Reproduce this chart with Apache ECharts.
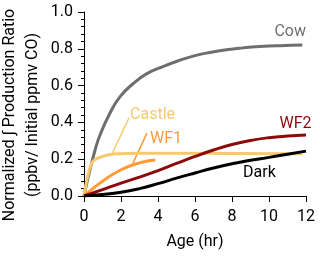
<!DOCTYPE html>
<html><head><meta charset="utf-8">
<script src="https://cdn.jsdelivr.net/npm/echarts@6/dist/echarts.min.js"></script>
<style>html,body{margin:0;padding:0;background:#fff}#c{width:320px;height:256px}</style>
</head><body><div id="c"></div>
<script>
const xTicks = [0, 2, 4, 6, 8, 10, 12];
const yTicks = [0.0, 0.2, 0.4, 0.6, 0.8, 1.0];
const cowT = [0,0.15,0.32,0.6,0.86,1.4,1.95,2.65,3.4,4.3,5.1,5.9,6.8,7.7,8.6,9.5,10.6,11.8];
const cowV = [0,0.07,0.14,0.25,0.33,0.45,0.54,0.61,0.665,0.705,0.735,0.76,0.78,0.795,0.805,0.812,0.817,0.82];
const castleT = [0,0.1,0.23,0.35,0.5,0.86,1.6,3,5,8,11.8];
const castleV = [0,0.06,0.12,0.16,0.19,0.21,0.228,0.232,0.232,0.231,0.23];
const wf1T = [0,0.86,1.95,3.0,3.85];
const wf1V = [0,0.07,0.14,0.18,0.195];
const wf2T = [0,1,2,3,4,5,6,7,8,9,10,11,12];
const wf2V = [0,0.035,0.07,0.103,0.138,0.177,0.215,0.25,0.28,0.302,0.317,0.326,0.332];
const darkT = [0,1,2,3,4,5,6,7,8,9,10,11,12];
const darkV = [0,0.008,0.02,0.04,0.067,0.097,0.125,0.152,0.175,0.194,0.21,0.227,0.244];
const names = ['Cow','Castle','WF1','WF2','Dark'];
const colors = ['#6d6e6e','#f6c96d','#ff9a35','#8b0a0a','#000000'];
// label anchor (data coords) and alignment
const labelPos = [[12,0.889,'right'],[2.49,0.44,'left'],[3.57,0.3125,'left'],[12.3,0.389,'right'],[8.6,0.125,'left']];
// pointer lines (data coords)
const pointers = [[1,[2.43,0.424],[1.51,0.228]],[2,[3.4,0.342],[2.65,0.179]]];
const yTitle = ['Normalized \u222B Production Ratio','(ppbv/ Initial ppmv CO)'];
const xTitle = 'Age (hr)';

const zip = (t,v)=>t.map((x,i)=>[x,v[i]]);
const seriesData = [zip(cowT,cowV),zip(castleT,castleV),zip(wf1T,wf1V),zip(wf2T,wf2V),zip(darkT,darkV)];
const FONT = 'Roboto';
const FW = 400;
const chart = echarts.init(document.getElementById('c'), null, {renderer:'canvas'});
chart.setOption({
  animation:false,
  grid:{left:84,right:14,top:12,bottom:60},
  xAxis:{type:'value',min:0,max:12,interval:2,offset:2,
    name:xTitle,nameLocation:'middle',nameGap:36,
    nameTextStyle:{fontFamily:FONT,fontSize:16,fontWeight:FW,color:'#000'},
    axisLine:{show:true,lineStyle:{color:'#000',width:1}},
    axisTick:{show:true,inside:false,length:6,lineStyle:{color:'#000'}},
    axisLabel:{fontFamily:FONT,fontSize:16,fontWeight:FW,color:'#000',margin:11},
    splitLine:{show:false}},
  yAxis:{type:'value',min:0,max:1,interval:0.2,offset:2,
    axisLine:{show:true,lineStyle:{color:'#000',width:1}},
    axisTick:{show:true,inside:false,length:6,lineStyle:{color:'#000'}},
    minorTick:{show:true,splitNumber:5,length:3,lineStyle:{color:'#000'}},
    axisLabel:{fontFamily:FONT,fontSize:16,fontWeight:FW,color:'#000',margin:9,formatter:v=>v.toFixed(1)},
    splitLine:{show:false}},
  series: seriesData.map((d,i)=>({type:'line',name:names[i],data:d,smooth:0.5,showSymbol:false,
    lineStyle:{color:colors[i],width:3},z:i===4?5:2}))
});
const g = [];
labelPos.forEach((p,i)=>{
  const px = chart.convertToPixel({xAxisIndex:0,yAxisIndex:0},[p[0],p[1]]);
  g.push({type:'text',x:px[0],y:px[1],style:{text:names[i],fill:colors[i],font:FW+' 16px '+FONT,align:p[2],verticalAlign:'middle'}});
});
pointers.forEach(p=>{
  const a = chart.convertToPixel({xAxisIndex:0,yAxisIndex:0},p[1]);
  const b = chart.convertToPixel({xAxisIndex:0,yAxisIndex:0},p[2]);
  g.push({type:'line',shape:{x1:a[0],y1:a[1],x2:b[0],y2:b[1]},style:{stroke:colors[p[0]],lineWidth:1.5}});
});
[10,33].forEach((x,i)=>{
  g.push({type:'text',x:x,y:115,rotation:Math.PI/2,style:{text:yTitle[i],fill:'#000',font:FW+' 16px '+FONT,align:'center',verticalAlign:'middle'}});
});
chart.setOption({graphic:g});
</script></body></html>
